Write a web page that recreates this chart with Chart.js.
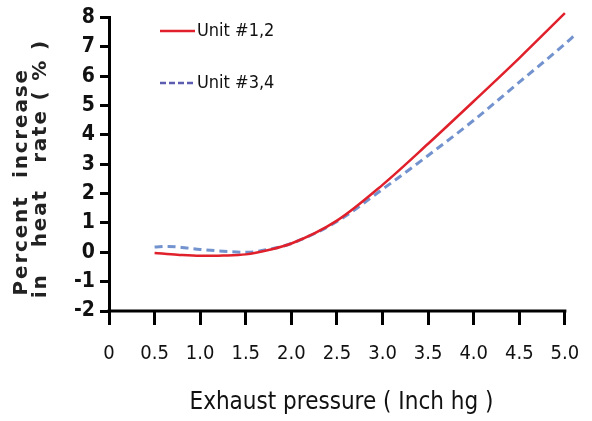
<!DOCTYPE html>
<html>
<head>
<meta charset="utf-8">
<script src="https://cdn.jsdelivr.net/npm/chart.js@4/dist/chart.umd.min.js"></script>
<style>
  html, body { margin: 0; padding: 0; background: #fff; }
  #wrap { width: 592px; height: 421px; }
</style>
</head>
<body>
<div id="wrap"><canvas id="c"></canvas></div>
<script>
// exhaust pressure (Inch hg) and percent increase in heat rate
const unit12X = [0.5, 0.75, 1.0, 1.25, 1.5, 1.75, 2.0, 2.5, 3.0, 3.5, 4.0, 4.5, 5.0];
const unit12Y = [-0.02, -0.08, -0.12, -0.11, -0.07, 0.08, 0.3, 1.08, 2.3, 3.7, 5.15, 6.62, 8.15];
const unit34X = [0.5, 0.65, 0.85, 1.0, 1.25, 1.5, 1.75, 2.0, 2.5, 3.0, 3.5, 4.0, 4.5, 5.0, 5.1];
const unit34Y = [0.18, 0.2, 0.15, 0.1, 0.04, 0.0, 0.1, 0.3, 1.05, 2.15, 3.3, 4.5, 5.8, 7.1, 7.38];
const xTicks = [0, 0.5, 1.0, 1.5, 2.0, 2.5, 3.0, 3.5, 4.0, 4.5, 5.0];
const seriesNames = ['Unit #1,2', 'Unit #3,4'];

const condensed = '"DejaVu Sans Condensed", "Liberation Sans Narrow", "DejaVu Sans", sans-serif';

function toPoints(xs, ys) {
    return xs.map((x, i) => ({ x: x, y: ys[i] }));
}

// bottom axis line only runs to the last tick (5.0), the blue curve goes a bit past it
const xAxisLine = {
    id: 'xAxisLine',
    afterDraw(chart) {
        const ctx = chart.ctx;
        const xs = chart.scales.x;
        const y = chart.chartArea.bottom;
        ctx.save();
        ctx.strokeStyle = '#000';
        ctx.lineWidth = 3;
        ctx.beginPath();
        ctx.moveTo(xs.getPixelForValue(xTicks[0]) - 1.5, y);
        ctx.lineTo(xs.getPixelForValue(xTicks[xTicks.length - 1]) + 1.5, y);
        ctx.stroke();
        ctx.restore();
    }
};

// the y title in the original is letter-spaced
const spacedTitle = {
    id: 'spacedTitle',
    beforeDraw(chart) {
        const ys = chart.scales.y;
        if (ys._spaced) return;
        const orig = ys.drawTitle;
        ys.drawTitle = function () {
            chart.ctx.letterSpacing = '1.8px';
            orig.apply(this, arguments);
            chart.ctx.letterSpacing = '0px';
        };
        ys._spaced = true;
    }
};

// legend drawn inside the plot area, top left
const insideLegend = {
    id: 'insideLegend',
    afterDraw(chart) {
        const ctx = chart.ctx;
        const rows = [31, 83];
        ctx.save();
        chart.data.datasets.forEach((ds, i) => {
            ctx.beginPath();
            ctx.strokeStyle = i == 0 ? '#e0202a' : '#5c5cb0';
            ctx.lineWidth = 2.5;
            ctx.setLineDash(i == 0 ? [] : [6, 3]);
            ctx.moveTo(160, rows[i]);
            ctx.lineTo(195, rows[i]);
            ctx.stroke();
            ctx.setLineDash([]);
            ctx.fillStyle = '#111';
            ctx.font = '18px ' + condensed;
            ctx.textBaseline = 'middle';
            ctx.fillText(ds.label, 197, rows[i]);
        });
        ctx.restore();
    }
};

new Chart(document.getElementById('c'), {
    type: 'line',
    data: {
        datasets: [{
            label: seriesNames[0],
            data: toPoints(unit12X, unit12Y),
            borderColor: '#e0202a',
            borderWidth: 2.5,
            pointRadius: 0,
            cubicInterpolationMode: 'monotone',
            clip: false
        }, {
            label: seriesNames[1],
            data: toPoints(unit34X, unit34Y),
            borderColor: '#7393cf',
            borderWidth: 3,
            borderDash: [8, 5],
            pointRadius: 0,
            cubicInterpolationMode: 'monotone',
            clip: false
        }]
    },
    options: {
        responsive: true,
        maintainAspectRatio: false,
        animation: false,
        layout: { padding: { top: 14, right: 18, left: 12, bottom: 0 } },
        plugins: {
            legend: { display: false },
            tooltip: { enabled: false }
        },
        scales: {
            x: {
                type: 'linear',
                min: 0,
                max: 5.1,
                afterBuildTicks: (axis) => { axis.ticks = xTicks.map(v => ({ value: v })); },
                afterFit: (axis) => {
                    axis.height = 421 - 311;
                    axis.paddingLeft = 0;
                    axis.paddingRight = 0;
                },
                border: { display: false },
                grid: { drawOnChartArea: false, color: '#000', lineWidth: 3, tickLength: 14 },
                ticks: {
                    color: '#111',
                    padding: 17,
                    autoSkip: false,
                    maxRotation: 0,
                    font: { family: condensed, size: 20 },
                    callback: (v) => v == 0 ? '0' : v.toFixed(1)
                },
                title: {
                    display: true,
                    text: 'Exhaust pressure ( Inch hg )',
                    color: '#111',
                    padding: { top: 12 },
                    font: { family: condensed, size: 24 }
                }
            },
            y: {
                min: -2,
                max: 8,
                afterFit: (axis) => { axis.width = 97; },
                border: { color: '#000', width: 3 },
                grid: { drawOnChartArea: false, color: '#000', lineWidth: 3, tickLength: 9 },
                ticks: {
                    stepSize: 1,
                    autoSkip: false,
                    color: '#111',
                    padding: 5,
                    font: { family: condensed, size: 21, weight: 'bold' }
                },
                title: {
                    display: true,
                    text: ['Percent  increase    ', 'in   heat   rate ( % ) '],
                    color: '#222',
                    padding: 0,
                    font: { family: '"DejaVu Sans", sans-serif', size: 20, weight: 'bold', lineHeight: 0.95 }
                }
            }
        }
    },
    plugins: [spacedTitle, xAxisLine, insideLegend]
});
</script>
</body>
</html>
